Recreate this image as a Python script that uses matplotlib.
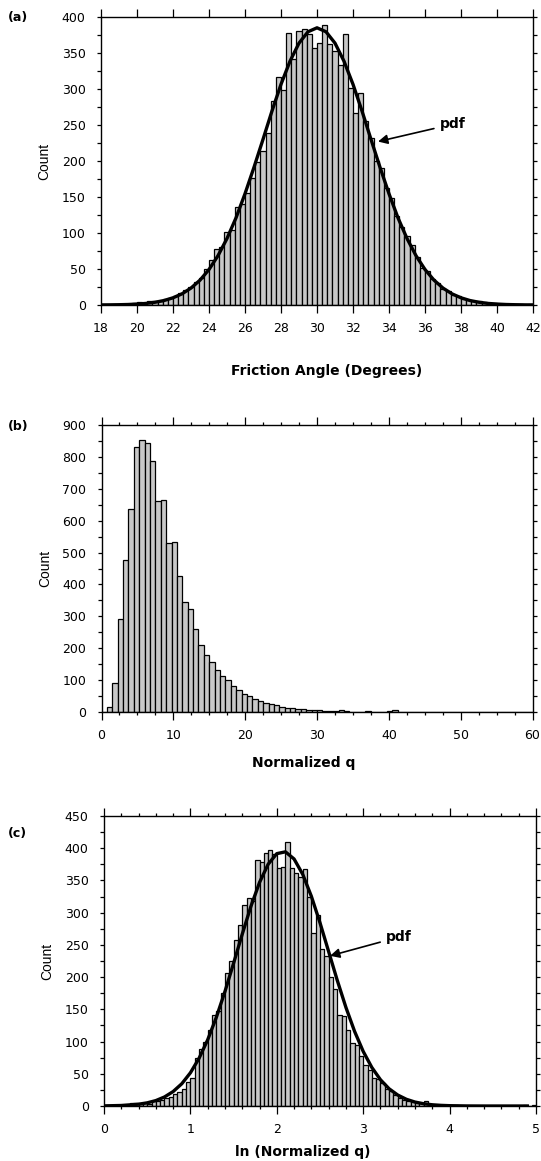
import numpy as np
import matplotlib
matplotlib.use("Agg")
import matplotlib.pyplot as plt
from matplotlib.ticker import MultipleLocator

plt.rcParams.update({
    "font.family": "DejaVu Sans",
    "font.size": 9,
    "axes.linewidth": 1.0,
})

# ---- (a) friction angle histogram, bins of 24/84 deg from 18 ----
phi_start, phi_width = 18.0, 24.0 / 84
phi_counts = [
    1, 1, 1, 0, 1, 1, 3, 4, 2, 5,
    6, 5, 8, 10, 12, 16, 21, 25, 32, 37,
    50, 63, 78, 81, 102, 104, 136, 140, 155, 176,
    198, 214, 239, 283, 316, 299, 378, 341, 381, 384,
    376, 357, 364, 389, 362, 353, 334, 377, 302, 267,
    295, 255, 232, 200, 190, 162, 148, 124, 108, 96,
    84, 66, 52, 47, 36, 31, 22, 19, 14, 12,
    8, 7, 5, 5, 4, 3, 3, 2, 1, 0,
    1, 1, 0, 1,
]
phi_pdf_x = [18, 18.5, 19, 19.5, 20, 20.5, 21, 21.5, 22, 22.5, 23, 23.5, 24, 24.5,
             25, 25.5, 26, 26.5, 27, 27.5, 28, 28.5, 29, 29.5, 30, 30.5, 31, 31.5,
             32, 32.5, 33, 33.5, 34, 34.5, 35, 35.5, 36, 36.5, 37, 37.5, 38, 38.5,
             39, 39.5, 40, 40.5, 41, 41.5, 42]
phi_pdf_y = [0.1, 0.2, 0.4, 0.7, 1.3, 2.2, 3.8, 6.2, 10, 15.5, 23.5, 34.5, 49.3, 68.5,
             92.4, 121, 154.5, 191.3, 230, 269.5, 306.5, 338.6, 363.7, 379.5, 385, 379.5, 363.7, 338.6,
             306.5, 269.5, 230, 191.3, 154.5, 121, 92.4, 68.5, 49.3, 34.5, 23.5, 15.5, 10, 6.2,
             3.8, 2.2, 1.3, 0.7, 0.4, 0.2, 0.1]

# ---- (b) normalized q histogram, bins of 0.75 from 0 ----
q_start, q_width = 0.0, 0.75
q_counts = [
    0, 15, 92, 291, 477, 636, 830, 853, 845, 787,
    662, 665, 529, 532, 426, 346, 322, 261, 210, 179,
    158, 131, 112, 99, 80, 70, 56, 50, 41, 33,
    29, 24, 22, 16, 13, 12, 9, 9, 6, 5,
    7, 4, 3, 2, 6, 2, 1, 1, 0, 3,
    0, 1, 0, 2, 5, 1, 0, 1, 0, 0,
    0, 0, 1, 0, 0, 0, 1, 0, 0, 0,
    0, 0, 0, 0, 0, 0, 0, 0, 0, 0,
]

# ---- (c) ln(normalized q) histogram, bins of 0.05 from 0 ----
lnq_start, lnq_width = 0.0, 0.05
lnq_counts = [
    1, 1, 0, 1, 2, 1, 4, 5, 3, 4,
    3, 7, 8, 10, 12, 14, 19, 22, 27, 38,
    44, 75, 88, 99, 118, 141, 148, 175, 206, 225,
    258, 281, 312, 322, 318, 382, 378, 392, 398, 391,
    369, 371, 410, 369, 362, 356, 368, 324, 268, 296,
    243, 232, 200, 182, 141, 139, 118, 97, 94, 78,
    63, 56, 43, 42, 35, 27, 24, 17, 12, 9,
    8, 6, 4, 5, 7, 3, 1, 1, 0, 1,
    0, 1, 0, 0, 0, 0, 0, 0, 0, 0,
    0, 0, 0, 0, 0, 0, 0, 1, 0, 1,
]
lnq_pdf_x = [0, 0.2, 0.4, 0.5, 0.6, 0.7, 0.8, 0.9, 1.0, 1.1, 1.2, 1.3, 1.4, 1.5,
             1.6, 1.7, 1.8, 1.9, 2.0, 2.1, 2.2, 2.3, 2.4, 2.5, 2.6, 2.7, 2.8, 2.9,
             3.0, 3.1, 3.2, 3.3, 3.4, 3.5, 3.6, 3.7, 3.8, 3.9, 4.0, 4.2, 4.4, 4.9]
lnq_pdf_y = [0.2, 0.8, 2.8, 4.9, 8.4, 14, 22.4, 34.5, 51.5, 74, 102.7, 137.5, 177.7, 221.6,
             266.6, 309.6, 346.9, 375.2, 391.6, 394.4, 383.3, 359.5, 325.4, 284.3, 239.6, 194.9, 153, 115.9,
             84.7, 59.8, 40.7, 26.7, 17, 10.4, 6.1, 3.5, 1.9, 1.0, 0.5, 0.1, 0, 0]

BAR_FACE = "#c8c8c8"
W, H = 541, 1161


def add_axes(left, top, right, bottom):
    return fig.add_axes([left / W, 1 - bottom / H, (right - left) / W, (bottom - top) / H])


def draw_hist(ax, start, width, counts):
    edges = start + np.arange(len(counts)) * width
    ax.bar(edges, counts, width=width, align="edge", color=BAR_FACE,
           edgecolor="black", linewidth=0.9, zorder=2)


def style_axes(ax, xmaj, xmin, ymaj, ymin):
    ax.xaxis.set_major_locator(MultipleLocator(xmaj))
    if xmin:
        ax.xaxis.set_minor_locator(MultipleLocator(xmin))
    ax.yaxis.set_major_locator(MultipleLocator(ymaj))
    ax.yaxis.set_minor_locator(MultipleLocator(ymin))
    ax.tick_params(which="both", direction="out", top=True, right=True, width=0.9)
    ax.tick_params(axis="x", which="major", length=5.5, pad=7)
    ax.tick_params(axis="x", which="minor", length=2.5)
    ax.tick_params(axis="y", which="both", length=3, pad=8)
    for s in ax.spines.values():
        s.set_zorder(5)
    ax.set_ylabel("Count", family="Liberation Sans", fontsize=10)


fig = plt.figure(figsize=(W / 100, H / 100), dpi=100)

# (a)
ax_a = add_axes(101, 17, 533, 305)
draw_hist(ax_a, phi_start, phi_width, phi_counts)
ax_a.plot(phi_pdf_x, phi_pdf_y, color="black", linewidth=2.4, zorder=3)
ax_a.set_xlim(18, 42)
ax_a.set_ylim(0, 400)
style_axes(ax_a, 2, None, 50, 25)
ax_a.set_xlabel("Friction Angle (Degrees)", fontweight="bold", fontsize=10)
ax_a.xaxis.set_label_coords(0.523, -0.205)
ax_a.annotate("pdf", xy=(33.39, 227), xytext=(36.8, 251),
              fontsize=10, fontweight="bold", ha="left", va="center",
              arrowprops=dict(arrowstyle="-|>", color="black", lw=1.2,
                              mutation_scale=14, shrinkA=2, shrinkB=0))

# (b)
ax_b = add_axes(101.5, 425, 532.5, 712)
draw_hist(ax_b, q_start, q_width, q_counts)
ax_b.set_xlim(0, 60)
ax_b.set_ylim(0, 900)
style_axes(ax_b, 10, 2.5, 100, 50)
ax_b.set_xlabel("Normalized q", fontweight="bold", fontsize=10)
ax_b.xaxis.set_label_coords(0.47, -0.153)

# (c)
ax_c = add_axes(104, 816, 536, 1106)
draw_hist(ax_c, lnq_start, lnq_width, lnq_counts)
ax_c.plot(lnq_pdf_x, lnq_pdf_y, color="black", linewidth=2.4, zorder=3)
ax_c.set_xlim(0, 5)
ax_c.set_ylim(0, 450)
style_axes(ax_c, 1, 0.2, 50, 25)
ax_c.set_xlabel("ln (Normalized q)", fontweight="bold", fontsize=10)
ax_c.xaxis.set_label_coords(0.46, -0.133)
ax_c.annotate("pdf", xy=(2.616, 233), xytext=(3.26, 262),
              fontsize=10, fontweight="bold", ha="left", va="center",
              arrowprops=dict(arrowstyle="-|>", color="black", lw=1.2,
                              mutation_scale=14, shrinkA=2, shrinkB=0))

for ax in (ax_a, ax_b, ax_c):
    ax.yaxis.set_label_coords(-0.115, 0.5)

fig.text(8 / W, 1 - 18 / H, "(a)", fontweight="bold", fontsize=9, va="center")
fig.text(8 / W, 1 - 426 / H, "(b)", fontweight="bold", fontsize=9, va="center")
fig.text(8 / W, 1 - 834 / H, "(c)", fontweight="bold", fontsize=9, va="center")

fig.savefig("out.png", dpi=100)
